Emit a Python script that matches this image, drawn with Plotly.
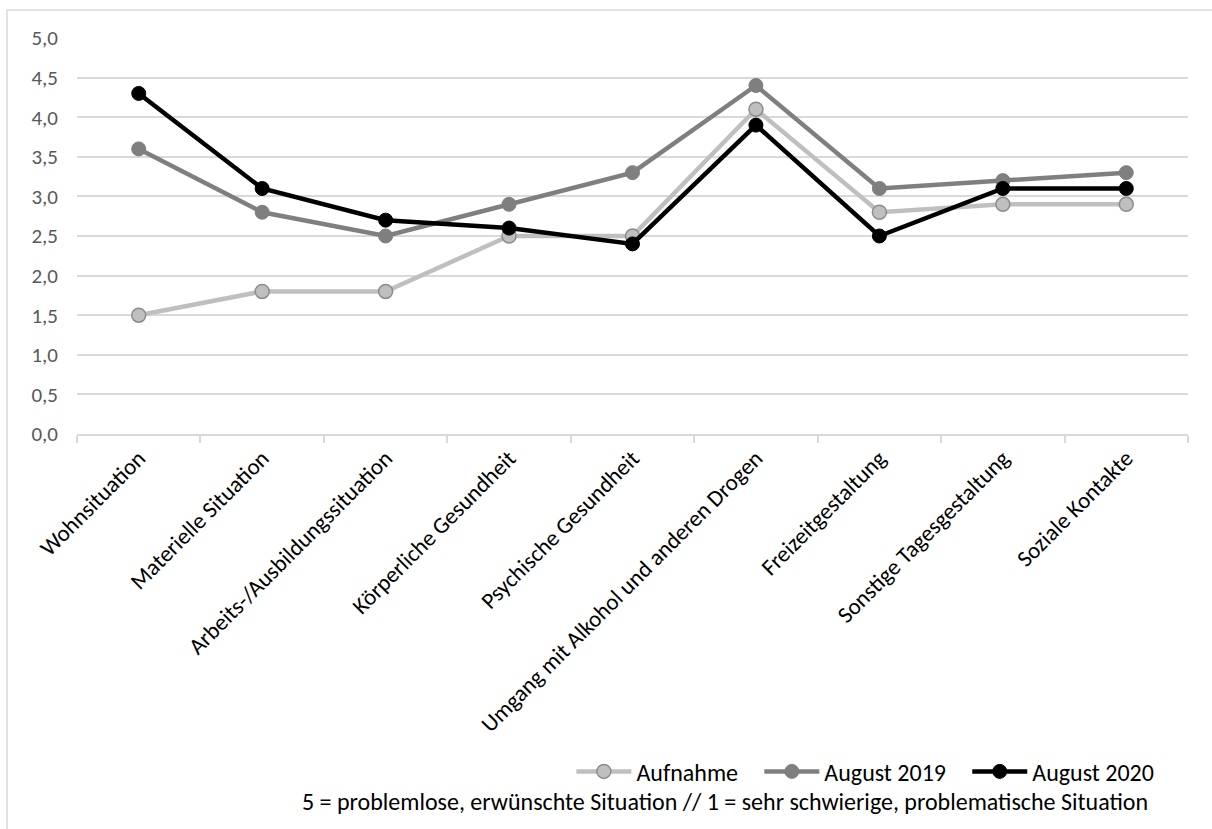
import plotly.graph_objects as go

categories = [
    "Wohnsituation",
    "Materielle Situation",
    "Arbeits-/Ausbildungssituation",
    "Körperliche Gesundheit",
    "Psychische Gesundheit",
    "Umgang mit Alkohol und anderen Drogen",
    "Freizeitgestaltung",
    "Sonstige Tagesgestaltung",
    "Soziale Kontakte",
]
aufnahme = [1.5, 1.8, 1.8, 2.5, 2.5, 4.1, 2.8, 2.9, 2.9]
august_2019 = [3.6, 2.8, 2.5, 2.9, 3.3, 4.4, 3.1, 3.2, 3.3]
august_2020 = [4.3, 3.1, 2.7, 2.6, 2.4, 3.9, 2.5, 3.1, 3.1]
y_ticks = [0, 0.5, 1, 1.5, 2, 2.5, 3, 3.5, 4, 4.5, 5]
note = "5 = problemlose, erwünschte Situation // 1 = sehr schwierige, problematische Situation"

FONT = "Carlito, Calibri, Lato, sans-serif"
PAD = "\u00a0" * 3  # extra spacing between legend entries

fig = go.Figure()
series = [
    ("Aufnahme", aufnahme, "#bfbfbf", dict(color="#bfbfbf", line=dict(color="#8c8c8c", width=1.5))),
    ("August 2019", august_2019, "#7f7f7f", dict(color="#7f7f7f", line=dict(color="#7f7f7f", width=1))),
    ("August 2020", august_2020, "#000000", dict(color="#000000", line=dict(color="#000000", width=1))),
]
for i, (name, vals, col, mk) in enumerate(series):
    fig.add_trace(go.Scatter(
        x=categories, y=vals, name=name + (PAD if i < len(series) - 1 else ""),
        mode="lines+markers",
        line=dict(color=col, width=4.5),
        marker=dict(size=14, symbol="circle", **mk),
    ))

fig.add_annotation(
    text=note, xref="paper", yref="paper", x=0.583, y=-0.929,
    xanchor="center", yanchor="middle", showarrow=False,
    font=dict(family=FONT, size=24, color="#000000"),
)

# outer chart frame
fig.add_shape(
    type="rect", xref="paper", yref="paper",
    x0=-0.063, x1=1.05, y0=-1.2, y1=1.0707,
    line=dict(color="#d9d9d9", width=1.5), layer="below",
)

fig.update_layout(
    width=1212, height=829,
    margin=dict(l=77, r=24, t=38, b=395),
    paper_bgcolor="white", plot_bgcolor="white",
    separators=",.",
    font=dict(family=FONT, size=24, color="#000000"),
    showlegend=True,
    legend=dict(
        orientation="h", x=0.445, y=-0.853, xanchor="left", yanchor="middle",
        font=dict(family=FONT, size=24, color="#000000"),
        itemwidth=55, bgcolor="rgba(0,0,0,0)", traceorder="normal",
    ),
)
fig.update_xaxes(
    type="category", tickangle=-45,
    tickfont=dict(family=FONT, size=23, color="#000000"),
    showgrid=False, showline=True, linecolor="#d9d9d9", linewidth=1.5,
    ticks="outside", tickson="boundaries", ticklen=7, tickcolor="#d9d9d9", tickwidth=1.5,
    range=[-0.5, 8.5],
)
fig.update_yaxes(
    range=[0, 5], tickvals=y_ticks, tickformat=".1f",
    tickfont=dict(family=FONT, size=21, color="#595959"),
    showgrid=True, gridcolor="#d9d9d9", gridwidth=1.5,
    zeroline=False, showline=False, ticks="", ticklabelstandoff=18,
)

fig.write_html("out.html")
